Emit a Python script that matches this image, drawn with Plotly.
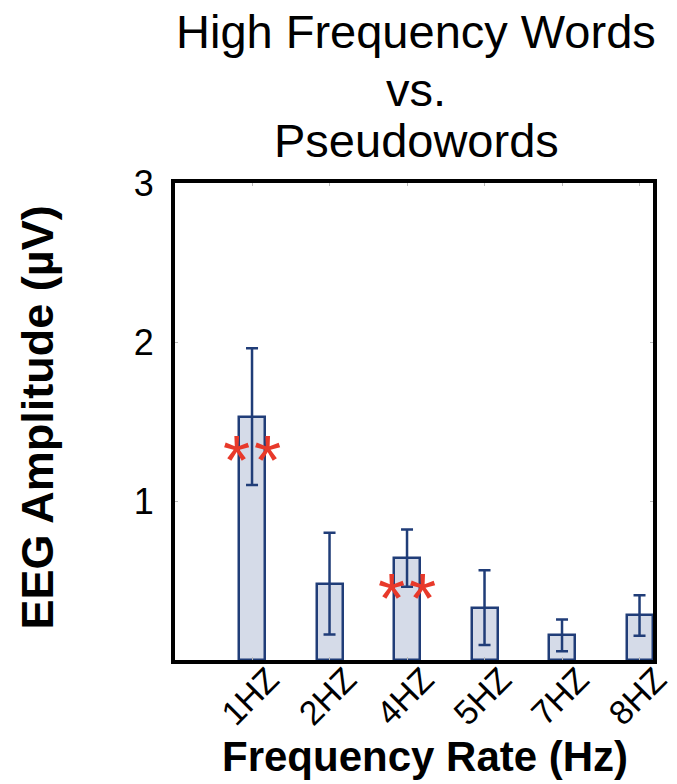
import plotly.graph_objects as go

categories = ["1HZ", "2HZ", "4HZ", "5HZ", "7HZ", "8HZ"]
amplitude = [1.53, 0.48, 0.64, 0.33, 0.155, 0.28]
error = [0.43, 0.32, 0.18, 0.235, 0.10, 0.128]
sig_y = [1.31, None, 0.44, None, None, None]
y_ticks = [1, 2, 3]

NAVY = "#203d78"
FILL = "#d5dbe8"
RED = "#e8392a"
FONT = "Liberation Sans, Arial, sans-serif"

xpos = list(range(len(categories)))

fig = go.Figure()
fig.add_trace(go.Bar(
    x=xpos, y=amplitude, width=0.335,
    marker=dict(color=FILL, line=dict(color=NAVY, width=2.5)),
    error_y=dict(type="data", array=error, visible=True, color=NAVY, thickness=2.5, width=6),
    showlegend=False, hoverinfo="skip",
))

# significance asterisks: two stars per marked bar
for i, v in enumerate(sig_y):
    if v is not None:
        for dx in (-15.5, 15.5):
            fig.add_annotation(x=xpos[i], y=v, xref="x", yref="y", text="*", showarrow=False,
                               xanchor="center", yanchor="middle", xshift=dx, yshift=-9,
                               font=dict(family=FONT, size=70, color=RED))

fig.update_layout(
    width=677, height=784, autosize=False,
    margin=dict(l=175, r=24, t=183, b=124, autoexpand=False),
    paper_bgcolor="white", plot_bgcolor="white",
    font=dict(family=FONT, color="black"),
    bargap=0,
)
fig.update_xaxes(
    range=[-0.994, 5.174], tickmode="array", tickvals=xpos, ticktext=categories,
    tickangle=-45, tickfont=dict(size=34, color="black"),
    ticks="inside", ticklen=3, tickcolor="#bbbbbb",
    ticklabelshift=17, ticklabelstandoff=-18, ticklabeloverflow="allow",
    showline=True, linecolor="black", linewidth=4, mirror="ticks",
    showgrid=False, zeroline=False, fixedrange=True, automargin=False,
)
fig.update_yaxes(
    range=[0, 3], tickmode="array", tickvals=y_ticks, ticktext=[str(v) for v in y_ticks],
    tickfont=dict(size=36, color="black"),
    ticks="inside", ticklen=3, tickcolor="#bbbbbb", ticklabelstandoff=10,
    showline=True, linecolor="black", linewidth=4, mirror="ticks",
    showgrid=False, zeroline=False, fixedrange=True, automargin=False,
)

# title lines
for txt, yp in [("High Frequency Words", 1.3175), ("vs.", 1.197), ("Pseudowords", 1.090)]:
    fig.add_annotation(text=txt, xref="paper", yref="paper", x=0.505, y=yp,
                       xanchor="center", yanchor="middle", showarrow=False,
                       font=dict(family=FONT, size=47, color="black"))

fig.add_annotation(text="<b>Frequency Rate (Hz)</b>", xref="paper", yref="paper",
                   x=0.523, y=-0.203, xanchor="center", yanchor="middle", showarrow=False,
                   font=dict(family=FONT, size=42, color="black"))
fig.add_annotation(text="<b>EEG Amplitude (µV)</b>", xref="paper", yref="paper",
                   x=-0.288, y=0.509, xanchor="center", yanchor="middle", showarrow=False,
                   textangle=-90, font=dict(family=FONT, size=45, color="black"))

# remove the browser's default 8px body margin so the figure sits at the window origin
fig.write_html("out.html", config={"displayModeBar": False},
               post_script="document.body.style.margin='0px';")
